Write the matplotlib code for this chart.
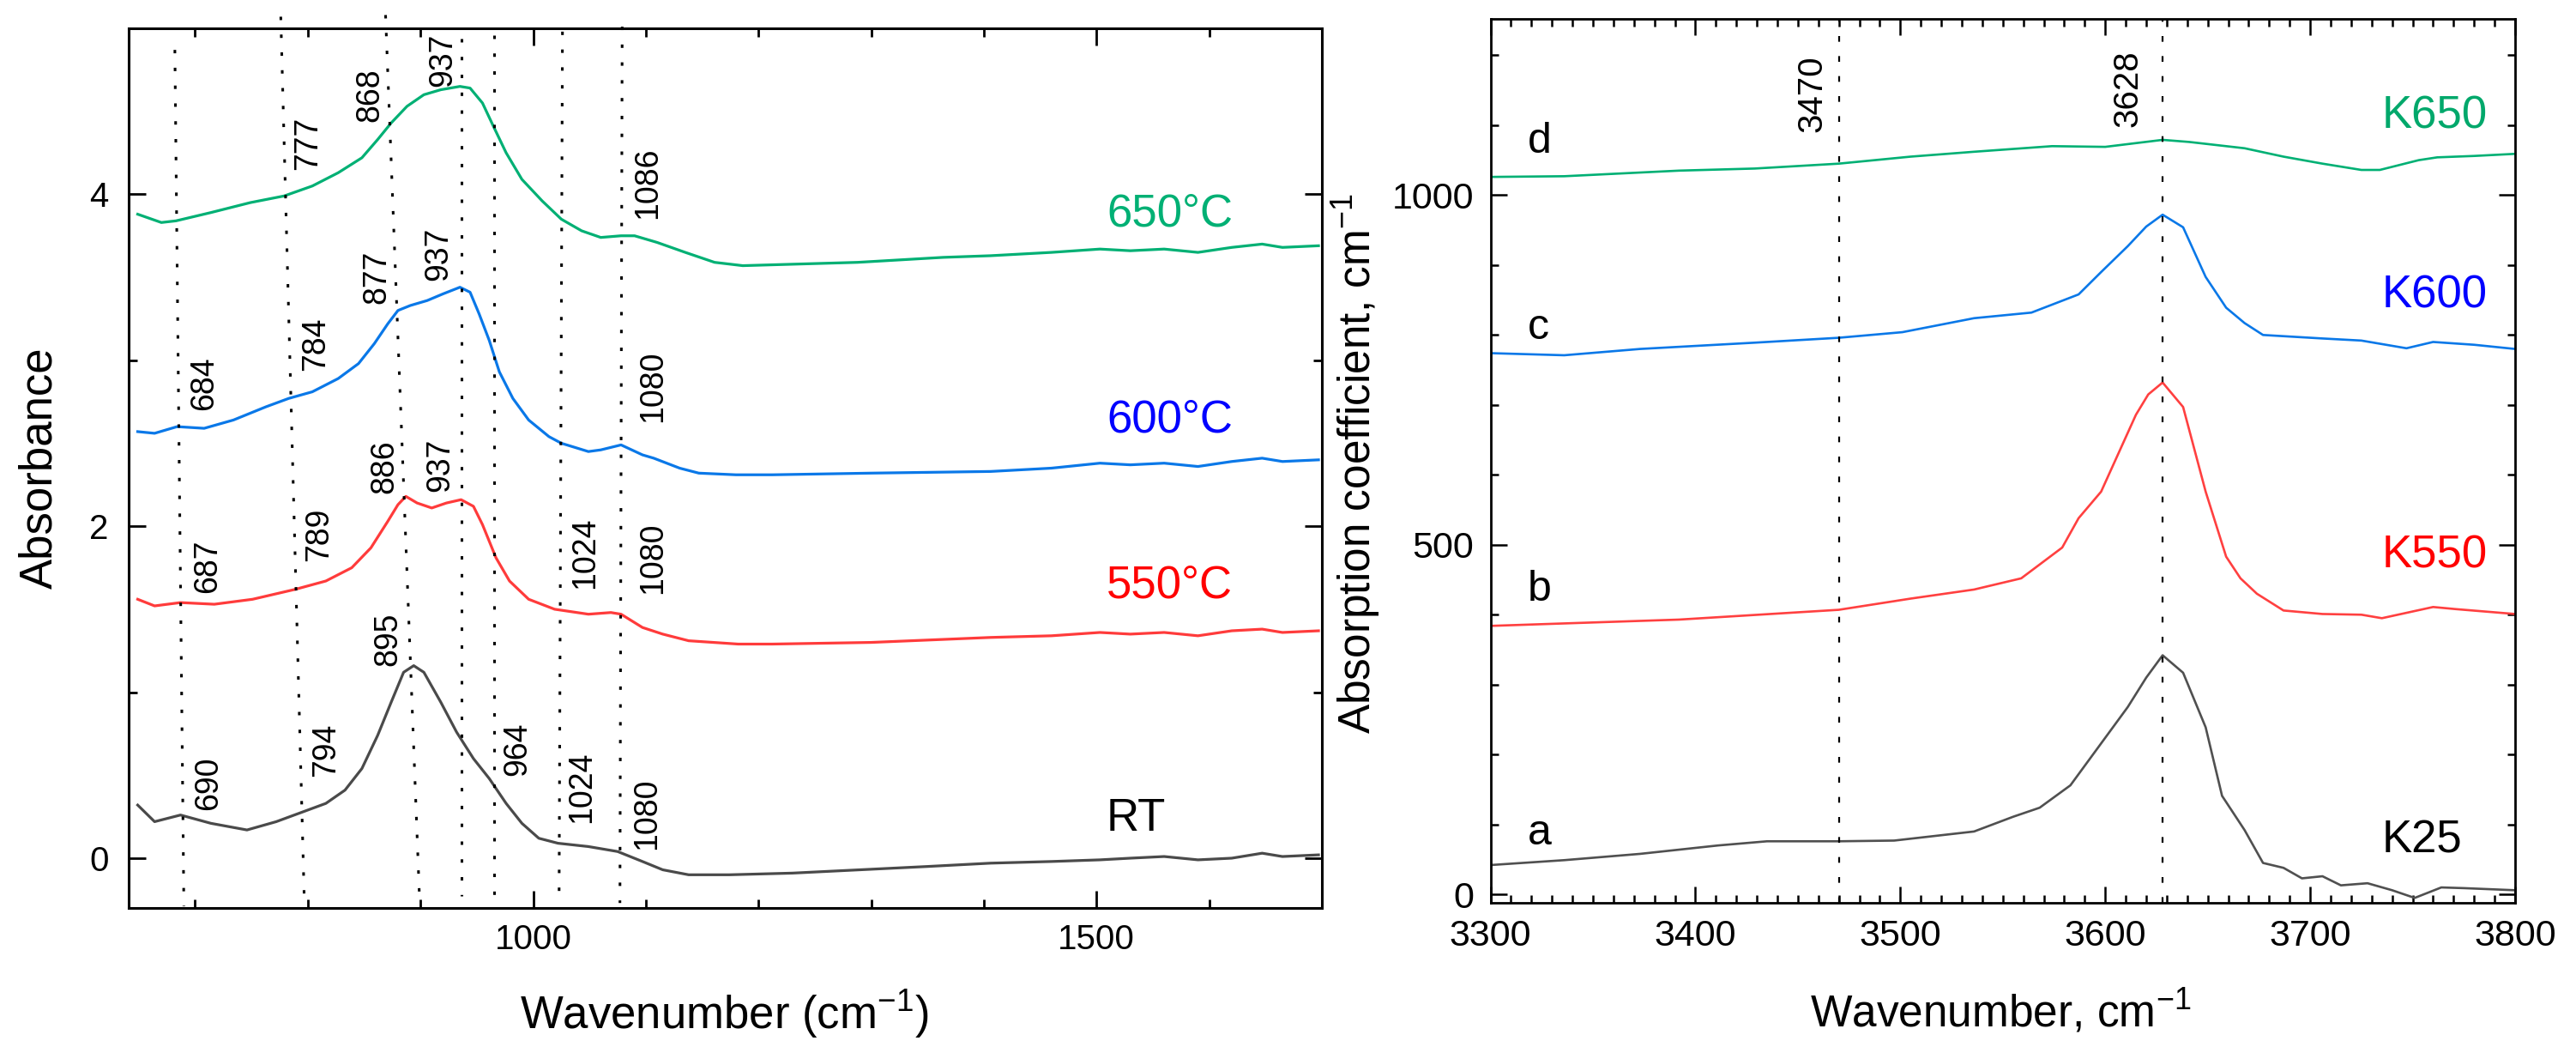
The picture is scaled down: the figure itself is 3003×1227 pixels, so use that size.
import matplotlib
matplotlib.use("Agg")
import matplotlib.pyplot as plt
from matplotlib.ticker import MultipleLocator, FixedLocator

plt.rcParams['font.family'] = ['Liberation Sans', 'DejaVu Sans']
plt.rcParams['mathtext.fontset'] = 'custom'
plt.rcParams['mathtext.rm'] = 'Liberation Sans'
plt.rcParams['mathtext.it'] = 'Liberation Sans:italic'
plt.rcParams['mathtext.bf'] = 'Liberation Sans:bold'

# ---------------- Left panel data (Absorbance vs wavenumber) ----------------
wn_650 = [649, 670, 683, 714, 749, 779, 804, 827, 848, 862, 874, 888, 903, 918, 935, 944, 955, 964,
          976, 990, 1008, 1025, 1043, 1060, 1078, 1090, 1110, 1135, 1161, 1186, 1237, 1288, 1364, 1406,
          1460, 1503, 1530, 1560, 1590, 1620, 1647, 1665, 1697]
ab_650 = [3.88, 3.83, 3.84, 3.89, 3.95, 3.99, 4.05, 4.13, 4.22, 4.33, 4.43, 4.53, 4.60, 4.63, 4.65, 4.64,
          4.55, 4.42, 4.25, 4.09, 3.96, 3.85, 3.78, 3.74, 3.75, 3.75, 3.71, 3.65, 3.59, 3.57, 3.58, 3.59,
          3.62, 3.63, 3.65, 3.67, 3.66, 3.67, 3.65, 3.68, 3.70, 3.68, 3.69]

wn_600 = [649, 664, 684, 708, 734, 763, 783, 804, 827, 845, 859, 871, 880, 891, 906, 920, 935, 944, 952,
          961, 970, 982, 996, 1014, 1025, 1049, 1060, 1078, 1097, 1107, 1130, 1147, 1180, 1212, 1300,
          1406, 1460, 1503, 1530, 1560, 1590, 1620, 1647, 1665, 1697]
ab_600 = [2.57, 2.56, 2.60, 2.59, 2.64, 2.72, 2.77, 2.81, 2.89, 2.98, 3.10, 3.22, 3.30, 3.33, 3.36, 3.40,
          3.44, 3.41, 3.28, 3.12, 2.93, 2.77, 2.64, 2.54, 2.50, 2.45, 2.46, 2.49, 2.43, 2.41, 2.35, 2.32,
          2.31, 2.31, 2.32, 2.33, 2.35, 2.38, 2.37, 2.38, 2.36, 2.39, 2.41, 2.39, 2.40]

wn_550 = [649, 664, 687, 717, 751, 789, 816, 839, 856, 871, 880, 887, 897, 910, 923, 936, 947, 955, 967,
          979, 996, 1019, 1049, 1069, 1078, 1097, 1115, 1138, 1160, 1182, 1212, 1300, 1406, 1460, 1503,
          1530, 1560, 1590, 1620, 1647, 1665, 1697]
ab_550 = [1.56, 1.52, 1.54, 1.53, 1.56, 1.62, 1.67, 1.75, 1.87, 2.03, 2.13, 2.18, 2.14, 2.11, 2.14, 2.16,
          2.12, 2.01, 1.81, 1.67, 1.56, 1.50, 1.47, 1.48, 1.47, 1.39, 1.35, 1.31, 1.30, 1.29, 1.29, 1.30,
          1.33, 1.34, 1.36, 1.35, 1.36, 1.34, 1.37, 1.38, 1.36, 1.37]

wn_rt = [649, 664, 687, 714, 746, 772, 792, 816, 833, 848, 862, 874, 885, 894, 903, 918, 932, 947, 961,
         976, 990, 1005, 1022, 1049, 1075, 1097, 1115, 1138, 1174, 1230, 1290, 1350, 1406, 1460, 1503,
         1530, 1560, 1590, 1620, 1647, 1665, 1697]
ab_rt = [0.32, 0.22, 0.26, 0.21, 0.17, 0.22, 0.27, 0.33, 0.41, 0.54, 0.74, 0.94, 1.12, 1.16, 1.12, 0.94,
         0.76, 0.60, 0.48, 0.33, 0.21, 0.12, 0.09, 0.07, 0.04, -0.02, -0.07, -0.10, -0.10, -0.09, -0.07,
         -0.05, -0.03, -0.02, -0.01, 0.00, 0.01, -0.01, 0.00, 0.03, 0.01, 0.02]

left_series = ["650°C", "600°C", "550°C", "RT"]
left_line_colors = ["#00B074", "#0A78E8", "#FF3B3B", "#4A4A4A"]
left_text_colors = ["#00B074", "#0000FF", "#FF0000", "#000000"]
left_label_y = [3.88, 2.64, 1.64, 0.24]
left_label_x = 1509

# dotted guide lines (top wavenumber, bottom wavenumber, top y, bottom y)
guide_top_wn = [682, 776, 869, 936.5, 965, 1026, 1079]
guide_bot_wn = [690, 797, 899, 936.5, 965, 1023, 1077]
guide_top_y = [4.87, 5.07, 5.08, 4.94, 4.96, 4.98, 5.01]
guide_bot_y = [-0.29, -0.29, -0.22, -0.23, -0.23, -0.23, -0.27]

# peak annotations (text, x, y)
peak_text = ["937", "868", "777", "1086",
             "937", "877", "784", "684", "1080",
             "886", "937", "789", "687", "1024", "1080",
             "895", "794", "690", "964", "1024", "1080"]
peak_x = [920, 855, 800, 1102,
          916, 861.5, 807, 708, 1106,
          868, 917.5, 810, 711, 1046, 1106,
          871, 816, 712, 986, 1043, 1101]
peak_y = [4.81, 4.60, 4.31, 4.07,
          3.64, 3.50, 3.10, 2.86, 2.84,
          2.36, 2.37, 1.95, 1.76, 1.84, 1.81,
          1.32, 0.65, 0.45, 0.66, 0.43, 0.27]

# ---------------- Right panel data (absorption coefficient) ----------------
wn_k650 = [3300, 3336, 3392, 3429, 3470, 3505, 3536, 3574, 3600, 3628, 3641, 3668, 3687, 3706, 3725,
           3734, 3753, 3762, 3780, 3800]
k650 = [1026, 1027, 1035, 1038, 1045, 1055, 1062, 1070, 1069, 1079, 1076, 1067, 1055, 1045, 1036,
        1036, 1050, 1054, 1056, 1059]

wn_k600 = [3300, 3336, 3373, 3429, 3470, 3501, 3536, 3564, 3587, 3598, 3611, 3620, 3628, 3638, 3649,
           3659, 3668, 3677, 3706, 3725, 3747, 3760, 3780, 3800]
k600 = [774, 771, 780, 789, 796, 804, 824, 832, 858, 890, 927, 955, 972, 954, 883,
        839, 817, 800, 795, 792, 781, 790, 786, 780]

wn_k550 = [3300, 3392, 3470, 3505, 3536, 3559, 3579, 3587, 3598, 3615, 3621, 3628, 3638, 3649, 3659,
           3666, 3674, 3687, 3706, 3725, 3735, 3760, 3771, 3800]
k550 = [384, 393, 407, 423, 436, 452, 496, 538, 576, 686, 715, 732, 697, 576, 483,
        452, 430, 406, 401, 400, 395, 411, 408, 401]

wn_k25 = [3300, 3336, 3373, 3411, 3435, 3470, 3497, 3536, 3555, 3568, 3583, 3589, 3600, 3611, 3620,
          3628, 3638, 3649, 3657, 3668, 3677, 3687, 3696, 3706, 3715, 3728, 3740, 3751, 3764, 3775, 3800]
k25 = [42, 49, 58, 70, 76, 76, 77, 90, 111, 124, 156, 180, 224, 268, 310,
       342, 317, 239, 141, 92, 45, 38, 23, 26, 13, 16, 6, -5, 10, 9, 6]

right_series = ["K650", "K600", "K550", "K25"]
right_letters = ["d", "c", "b", "a"]
right_line_colors = ["#00B074", "#0A78E8", "#FF4040", "#505050"]
right_text_colors = ["#00A86B", "#0000FF", "#FF0000", "#000000"]
right_label_y = [1113, 856, 485, 77]
right_letter_y = [1076, 810, 436, 87]
right_label_x = 3735
right_letter_x = 3318
right_guides = [3470, 3628]
right_guide_text = ["3470", "3628"]
right_guide_tx = [3457, 3611]
right_guide_ty = [1145, 1152]

# ---------------- Figure ----------------
W, H = 3003, 1227
DPI = 200
fig = plt.figure(figsize=(W / DPI, H / DPI), dpi=DPI)

axL = fig.add_axes([150 / W, 1 - 1058 / H, (1541 - 150) / W, (1058 - 33) / H])
axR = fig.add_axes([1737.5 / W, 1 - 1052 / H, (2932 - 1737.5) / W, (1052 - 22) / H])

lw_curve = 1.15
for wn, ab, c in zip([wn_650, wn_600, wn_550, wn_rt], [ab_650, ab_600, ab_550, ab_rt], left_line_colors):
    axL.plot(wn, ab, color=c, lw=lw_curve, solid_joinstyle='round')

for xt, xb, yt, yb in zip(guide_top_wn, guide_bot_wn, guide_top_y, guide_bot_y):
    axL.plot([xt, xb], [yt, yb], color='k', lw=1.1, ls=(0, (1.3, 5.5)),
             dash_capstyle='butt', clip_on=False)

for t, x, y in zip(peak_text, peak_x, peak_y):
    axL.text(x, y, t, rotation=90, ha='center', va='center', fontsize=13.5, color='k')

for name, y, c in zip(left_series, left_label_y, left_text_colors):
    axL.text(left_label_x, y, name, ha='left', va='center', fontsize=19, color=c)

axL.set_xlim(641, 1700)
axL.set_ylim(-0.3, 5.0)
axL.xaxis.set_major_locator(FixedLocator([1000, 1500]))
axL.xaxis.set_minor_locator(FixedLocator([700, 800, 900, 1100, 1200, 1300, 1400, 1600]))
axL.yaxis.set_major_locator(FixedLocator([0, 2, 4]))
axL.yaxis.set_minor_locator(FixedLocator([1, 3]))
axL.tick_params(which='both', direction='in', top=True, right=True, width=1.0, labelsize=14.5)
axL.tick_params(which='major', length=7.2)
axL.tick_params(which='minor', length=3.6)
axL.tick_params(axis='x', pad=6.5)
axL.tick_params(axis='y', pad=8.5)
for s in axL.spines.values():
    s.set_linewidth(1.1)

# Right panel
for wn, k, c in zip([wn_k650, wn_k600, wn_k550, wn_k25], [k650, k600, k550, k25], right_line_colors):
    axR.plot(wn, k, color=c, lw=0.95, solid_joinstyle='round')

for g in right_guides:
    axR.axvline(g, color='k', lw=0.8, ls=(0, (3, 7.5)), dash_capstyle='butt')
for t, x, y in zip(right_guide_text, right_guide_tx, right_guide_ty):
    axR.text(x, y, t, rotation=90, ha='center', va='center', fontsize=14.5, color='k')

for name, y, c in zip(right_series, right_label_y, right_text_colors):
    axR.text(right_label_x, y, name, ha='left', va='center', fontsize=19, color=c)
for letter, y in zip(right_letters, right_letter_y):
    axR.text(right_letter_x, y, letter, ha='left', va='center', fontsize=18, color='k')

axR.set_xlim(3300, 3800)
axR.set_ylim(-12, 1252)
axR.xaxis.set_major_locator(MultipleLocator(100))
axR.xaxis.set_minor_locator(MultipleLocator(10))
axR.yaxis.set_major_locator(MultipleLocator(500))
axR.yaxis.set_minor_locator(MultipleLocator(100))
axR.tick_params(which='both', direction='in', top=True, right=True, width=0.9, labelsize=15.5)
axR.tick_params(which='major', length=7.0)
axR.tick_params(which='minor', length=3.2)
axR.tick_params(axis='x', pad=6.8)
axR.tick_params(axis='y', pad=7.0)
for s in axR.spines.values():
    s.set_linewidth(1.0)

# Axis labels
fig.text(60 / W, 1 - 545 / H, 'Absorbance', rotation=90, rotation_mode='anchor',
         ha='center', va='baseline', fontsize=19)
fig.text(844 / W, 1 - 1199 / H, r'Wavenumber (cm$^{-1}$)', ha='center', va='baseline', fontsize=19)
fig.text(1598 / W, 1 - 540 / H, r'Absorption coefficient, cm$^{-1}$', rotation=90, rotation_mode='anchor',
         ha='center', va='baseline', fontsize=18.5)
fig.text(2332 / W, 1 - 1197 / H, r'Wavenumber, cm$^{-1}$', ha='center', va='baseline', fontsize=18.5)

fig.savefig('out.png', dpi=DPI)
